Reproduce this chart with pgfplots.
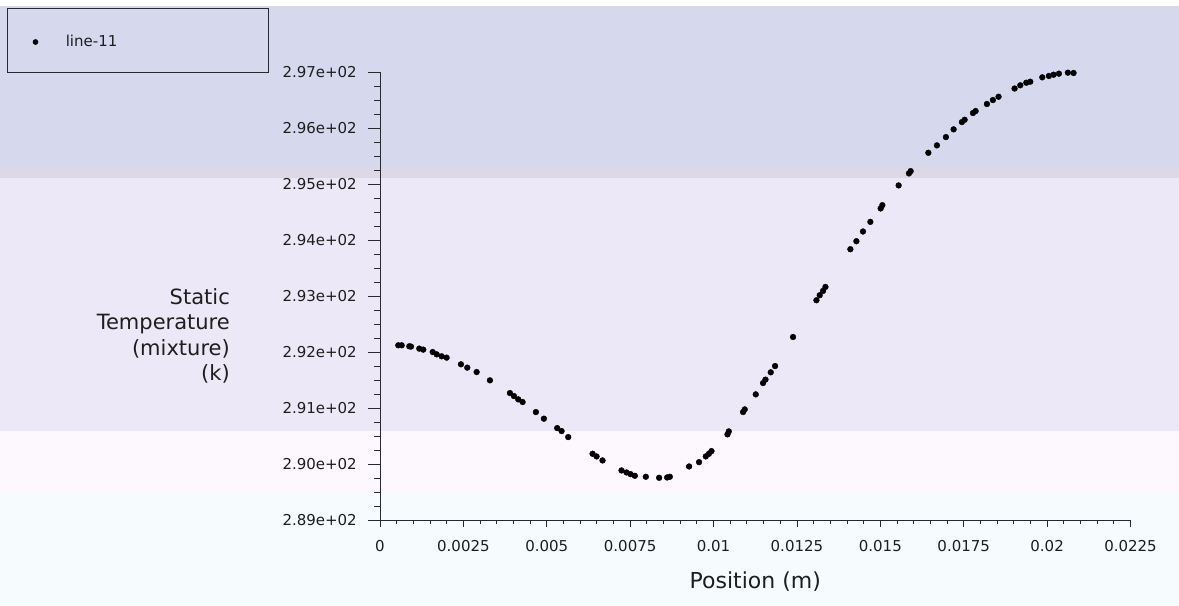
\documentclass[border=0pt]{standalone}
\usepackage{fontspec}
\setmainfont{DejaVu Sans}
\usepackage{pgfplots}
\pgfplotsset{compat=1.18}
\usepackage{pgfplotstable}
\definecolor{bandtop}{RGB}{214,216,238}
\definecolor{bandstrip}{RGB}{220,216,230}
\definecolor{bandmid}{RGB}{236,232,247}
\definecolor{bandpink}{RGB}{253,248,253}
\definecolor{bandcyan}{RGB}{246,252,253}
\definecolor{axisgrey}{RGB}{40,40,48}
\definecolor{labelgrey}{RGB}{30,30,30}

\pgfplotstableread{
x y
0.000548 292.125
0.000650 292.125
0.000878 292.107
0.000929 292.102
0.001177 292.066
0.001297 292.048
0.001579 292.005
0.001699 291.964
0.001849 291.929
0.001998 291.905
0.002427 291.786
0.002616 291.727
0.002897 291.648
0.003296 291.500
0.003895 291.273
0.004015 291.220
0.004144 291.161
0.004275 291.113
0.004674 290.934
0.004914 290.816
0.005312 290.648
0.005444 290.595
0.005642 290.488
0.006373 290.191
0.006493 290.143
0.006672 290.071
0.007241 289.893
0.007391 289.857
0.007511 289.827
0.007640 289.798
0.007970 289.780
0.008368 289.762
0.008608 289.768
0.008689 289.780
0.009267 289.964
0.009566 290.041
0.009767 290.143
0.009860 290.190
0.009938 290.238
0.010417 290.536
0.010457 290.589
0.010885 290.934
0.010935 290.982
0.011265 291.250
0.011484 291.452
0.011556 291.513
0.011715 291.643
0.011844 291.755
0.012383 292.273
0.013084 292.929
0.013183 293.018
0.013282 293.095
0.013354 293.166
0.014102 293.839
0.014282 293.982
0.014480 294.155
0.014701 294.327
0.015010 294.566
0.015061 294.625
0.015549 294.977
0.015858 295.191
0.015909 295.232
0.016439 295.559
0.016697 295.691
0.016966 295.839
0.017197 295.977
0.017446 296.107
0.017527 296.148
0.017776 296.268
0.017856 296.304
0.018195 296.429
0.018375 296.500
0.018545 296.559
0.019025 296.705
0.019196 296.763
0.019376 296.809
0.019495 296.827
0.019855 296.905
0.020053 296.929
0.020194 296.952
0.020353 296.970
0.020622 296.988
0.020793 296.982
}\tempdata

\pgfplotsset{myax/.style={
  scale only axis, width=750.5bp, height=448.5bp,
  at={(380bp,85.5bp)}, anchor=south west,
  xmin=0, xmax=0.0225, ymin=289, ymax=297,
  tick style={color=axisgrey, line width=0.9bp},
  ticklabel style={font=\fontsize{15bp}{18bp}\selectfont, text=labelgrey},
  scaled ticks=false,
}}

\begin{document}
\begin{tikzpicture}
\fill[bandcyan] (0bp,0bp) rectangle (1179bp,113bp);
\fill[bandpink] (0bp,113bp) rectangle (1179bp,175bp);
\fill[bandmid] (0bp,175bp) rectangle (1179bp,428bp);
\fill[bandstrip] (0bp,428bp) rectangle (1179bp,439bp);
\fill[bandtop] (0bp,439bp) rectangle (1179bp,600bp);
\fill[white] (0bp,600bp) rectangle (1179bp,606bp);
\draw[axisgrey, line width=1bp] (7.5bp,533bp) rectangle (268.5bp,597.5bp);

\begin{axis}[myax,
  axis y line=left, axis x line=none,
  every outer y axis line/.append style={-},
  every inner y axis line/.append style={-},
  y axis line style={-, color=axisgrey, line width=1bp},
  tick align=outside,
  ytick={289,290,291,292,293,294,295,296,297},
  yticklabels={2.89e+02,2.90e+02,2.91e+02,2.92e+02,2.93e+02,2.94e+02,2.95e+02,2.96e+02,2.97e+02},
  yticklabel style={inner sep=0pt, xshift=-11bp},
  minor y tick num=3,
  major tick length=12bp, minor tick length=6bp,
  ylabel={Static\\Temperature\\(mixture)\\(k)},
  every axis y label/.style={at={(axis description cs:-0.19987,0.4114)}, anchor=east, align=right, inner sep=0pt, font=\fontsize{21bp}{25.3bp}\selectfont, text=labelgrey},
  legend style={at={(axis description cs:-0.4630,1.0669)}, anchor=west, draw=none, fill=none, inner sep=0pt, column sep=27.5bp, nodes={inner sep=0pt, font=\fontsize{15bp}{18bp}\selectfont, text=labelgrey}},
  legend cell align=left,
  legend image code/.code={\fill[black] (0bp,0bp) circle (2.6bp);},
]
\addplot[only marks, mark=*, mark size=2.9bp, black] table[x=x,y=y]{\tempdata};
\addlegendentry{line-11}
\end{axis}

\begin{axis}[myax,
  axis x line=bottom, axis y line=none,
  every outer x axis line/.append style={-},
  every inner x axis line/.append style={-},
  x axis line style={-, color=axisgrey, line width=1bp},
  tick align=outside,
  xtick={0,0.0025,0.005,0.0075,0.01,0.0125,0.015,0.0175,0.02,0.0225},
  xticklabels={0,0.0025,0.005,0.0075,0.01,0.0125,0.015,0.0175,0.02,0.0225},
  xticklabel style={inner sep=0pt, yshift=-13.5bp},
  minor x tick num=4,
  major tick length=6bp, minor tick length=3.5bp,
  xlabel={Position (m)},
  every axis x label/.style={at={(axis description cs:0.5,-0.1371)}, anchor=center, font=\fontsize{22bp}{25.3bp}\selectfont, text=labelgrey},
]
\end{axis}
\pgfresetboundingbox
\useasboundingbox (0bp,0bp) rectangle (1179bp,606bp);
\end{tikzpicture}
\end{document}
